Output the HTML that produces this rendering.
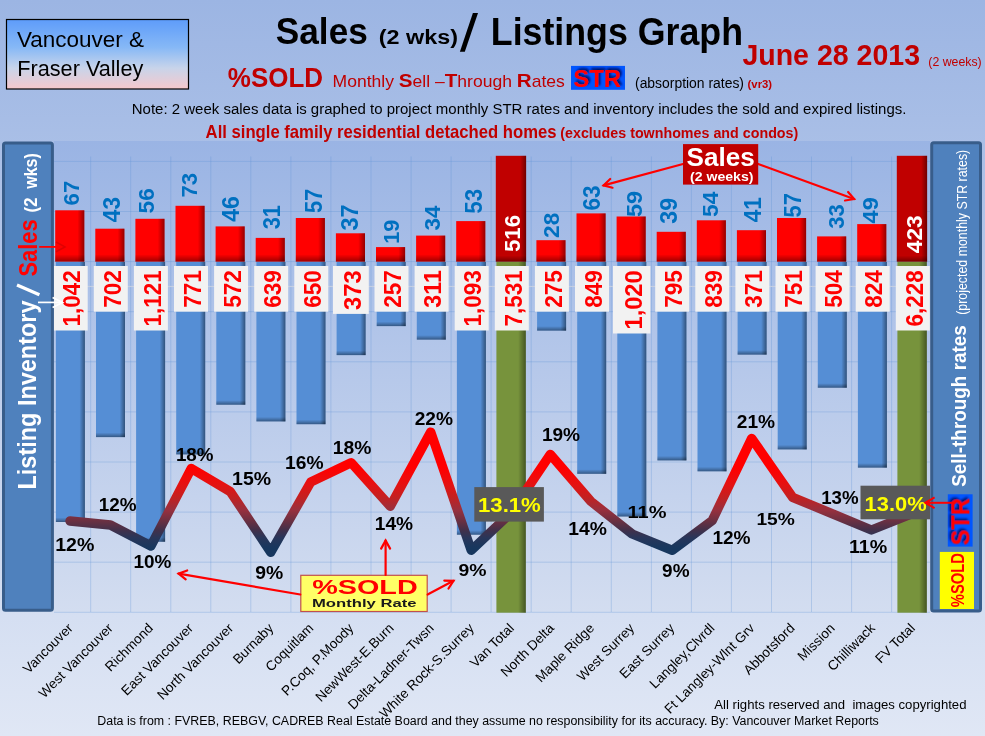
<!DOCTYPE html><html><head><meta charset="utf-8"><style>html,body{margin:0;padding:0;overflow:hidden;background:#c0cde9}svg{display:block;will-change:transform}text{font-family:"Liberation Sans", sans-serif}</style></head><body>
<svg width="985" height="736" viewBox="0 0 985 736">
<defs>
<linearGradient id="bg" x1="0" y1="0" x2="0" y2="1"><stop offset="0" stop-color="#9cb5e3"/><stop offset="1" stop-color="#e0e7f5"/></linearGradient>
<linearGradient id="plot" x1="0" y1="0" x2="0" y2="1"><stop offset="0" stop-color="#9ab4e4"/><stop offset="1" stop-color="#d3ddf0"/></linearGradient>
<linearGradient id="vfbox" x1="0" y1="0" x2="0" y2="1"><stop offset="0" stop-color="#5e9cfa"/><stop offset="0.4" stop-color="#86b8f6"/><stop offset="0.7" stop-color="#c8d4ea"/><stop offset="1" stop-color="#f6c8cc"/></linearGradient>
<linearGradient id="shR" x1="0" y1="0" x2="1" y2="0"><stop offset="0" stop-color="#000" stop-opacity="0"/><stop offset="1" stop-color="#000" stop-opacity="0.42"/></linearGradient>
<linearGradient id="shB" x1="0" y1="0" x2="0" y2="1"><stop offset="0" stop-color="#000" stop-opacity="0"/><stop offset="1" stop-color="#000" stop-opacity="0.38"/></linearGradient>
<linearGradient id="lineg" gradientUnits="userSpaceOnUse" x1="0" y1="468" x2="0" y2="548"><stop offset="0.000" stop-color="#ff0000"/><stop offset="0.212" stop-color="#e41212"/><stop offset="0.362" stop-color="#c42020"/><stop offset="0.525" stop-color="#98303e"/><stop offset="0.662" stop-color="#6a3042"/><stop offset="0.775" stop-color="#42304a"/><stop offset="0.875" stop-color="#28365a"/><stop offset="1.000" stop-color="#17375e"/></linearGradient>
<filter id="strsh" x="-10%" y="-10%" width="130%" height="130%"><feDropShadow dx="1.9" dy="-1.9" stdDeviation="1.0" flood-color="#001060" flood-opacity="1"/></filter>
</defs>
<rect x="0" y="0" width="985" height="736" fill="url(#bg)"/>
<rect x="54" y="141" width="876" height="471" fill="url(#plot)"/>
<g stroke="#5d92d5" stroke-width="1" stroke-opacity="0.3"><line x1="54" y1="161.4" x2="930" y2="161.4"/><line x1="54" y1="211.5" x2="930" y2="211.5"/><line x1="54" y1="261.6" x2="930" y2="261.6"/><line x1="54" y1="311.7" x2="930" y2="311.7"/><line x1="54" y1="361.8" x2="930" y2="361.8"/><line x1="54" y1="411.9" x2="930" y2="411.9"/><line x1="54" y1="462.0" x2="930" y2="462.0"/><line x1="54" y1="512.1" x2="930" y2="512.1"/><line x1="54" y1="562.2" x2="930" y2="562.2"/><line x1="54" y1="612.3" x2="930" y2="612.3"/><line x1="90.7" y1="156.5" x2="90.7" y2="612"/><line x1="130.7" y1="156.5" x2="130.7" y2="612"/><line x1="170.8" y1="156.5" x2="170.8" y2="612"/><line x1="210.8" y1="156.5" x2="210.8" y2="612"/><line x1="250.8" y1="156.5" x2="250.8" y2="612"/><line x1="290.9" y1="156.5" x2="290.9" y2="612"/><line x1="330.9" y1="156.5" x2="330.9" y2="612"/><line x1="371.0" y1="156.5" x2="371.0" y2="612"/><line x1="411.1" y1="156.5" x2="411.1" y2="612"/><line x1="451.1" y1="156.5" x2="451.1" y2="612"/><line x1="491.1" y1="156.5" x2="491.1" y2="612"/><line x1="531.2" y1="156.5" x2="531.2" y2="612"/><line x1="571.2" y1="156.5" x2="571.2" y2="612"/><line x1="611.3" y1="156.5" x2="611.3" y2="612"/><line x1="651.4" y1="156.5" x2="651.4" y2="612"/><line x1="691.4" y1="156.5" x2="691.4" y2="612"/><line x1="731.4" y1="156.5" x2="731.4" y2="612"/><line x1="771.5" y1="156.5" x2="771.5" y2="612"/><line x1="811.5" y1="156.5" x2="811.5" y2="612"/><line x1="851.6" y1="156.5" x2="851.6" y2="612"/><line x1="891.6" y1="156.5" x2="891.6" y2="612"/></g>
<line x1="54" y1="286.4" x2="930" y2="286.4" stroke="#c8d0e2" stroke-width="1"/>
<text transform="translate(78.5,205.4) rotate(-90)" font-size="22.3" fill="#0070c0" font-weight="bold" textLength="24.7" lengthAdjust="spacingAndGlyphs" >67</text>
<text transform="translate(120.0,222.2) rotate(-90)" font-size="23.7" fill="#0070c0" font-weight="bold" textLength="25.2" lengthAdjust="spacingAndGlyphs" >43</text>
<text transform="translate(154.4,213.4) rotate(-90)" font-size="22.8" fill="#0070c0" font-weight="bold" textLength="25.1" lengthAdjust="spacingAndGlyphs" >56</text>
<text transform="translate(197.0,197.6) rotate(-90)" font-size="22.3" fill="#0070c0" font-weight="bold" textLength="24.7" lengthAdjust="spacingAndGlyphs" >73</text>
<text transform="translate(239.0,221.7) rotate(-90)" font-size="23.7" fill="#0070c0" font-weight="bold" textLength="25.5" lengthAdjust="spacingAndGlyphs" >46</text>
<text transform="translate(280.2,229.3) rotate(-90)" font-size="23.2" fill="#0070c0" font-weight="bold" textLength="24.2" lengthAdjust="spacingAndGlyphs" >31</text>
<text transform="translate(321.6,213.1) rotate(-90)" font-size="23.9" fill="#0070c0" font-weight="bold" textLength="24.4" lengthAdjust="spacingAndGlyphs" >57</text>
<text transform="translate(357.9,230.5) rotate(-90)" font-size="23.9" fill="#0070c0" font-weight="bold" textLength="26.1" lengthAdjust="spacingAndGlyphs" >37</text>
<text transform="translate(399.1,243.8) rotate(-90)" font-size="22.6" fill="#0070c0" font-weight="bold" textLength="24.0" lengthAdjust="spacingAndGlyphs" >19</text>
<text transform="translate(440.4,230.5) rotate(-90)" font-size="22.6" fill="#0070c0" font-weight="bold" textLength="24.9" lengthAdjust="spacingAndGlyphs" >34</text>
<text transform="translate(482.2,213.7) rotate(-90)" font-size="24.4" fill="#0070c0" font-weight="bold" textLength="24.8" lengthAdjust="spacingAndGlyphs" >53</text>
<text transform="translate(559.4,237.9) rotate(-90)" font-size="22.6" fill="#0070c0" font-weight="bold" textLength="25.1" lengthAdjust="spacingAndGlyphs" >28</text>
<text transform="translate(599.9,210.6) rotate(-90)" font-size="23.7" fill="#0070c0" font-weight="bold" textLength="25.1" lengthAdjust="spacingAndGlyphs" >63</text>
<text transform="translate(642.0,217.0) rotate(-90)" font-size="22.3" fill="#0070c0" font-weight="bold" textLength="26.1" lengthAdjust="spacingAndGlyphs" >59</text>
<text transform="translate(677.1,223.8) rotate(-90)" font-size="23.2" fill="#0070c0" font-weight="bold" textLength="25.9" lengthAdjust="spacingAndGlyphs" >39</text>
<text transform="translate(718.0,217.0) rotate(-90)" font-size="22.9" fill="#0070c0" font-weight="bold" textLength="25.5" lengthAdjust="spacingAndGlyphs" >54</text>
<text transform="translate(761.0,222.3) rotate(-90)" font-size="23.0" fill="#0070c0" font-weight="bold" textLength="25.1" lengthAdjust="spacingAndGlyphs" >41</text>
<text transform="translate(801.0,217.4) rotate(-90)" font-size="23.7" fill="#0070c0" font-weight="bold" textLength="24.4" lengthAdjust="spacingAndGlyphs" >57</text>
<text transform="translate(844.1,228.7) rotate(-90)" font-size="22.9" fill="#0070c0" font-weight="bold" textLength="24.4" lengthAdjust="spacingAndGlyphs" >33</text>
<text transform="translate(878.2,223.4) rotate(-90)" font-size="22.9" fill="#0070c0" font-weight="bold" textLength="26.2" lengthAdjust="spacingAndGlyphs" >49</text>
<rect x="55.2" y="210.3" width="29.1" height="51.3" fill="#ff0000"/>
<rect x="77.5" y="210.3" width="6.8" height="51.3" fill="url(#shR)"/>
<rect x="55.2" y="254.4" width="29.1" height="7.2" fill="url(#shB)"/>
<rect x="55.9" y="262" width="29" height="260.0" fill="#558ed5"/>
<rect x="79.4" y="262" width="5.5" height="260.0" fill="url(#shR)"/>
<rect x="55.9" y="517.5" width="29" height="4.5" fill="url(#shB)"/>
<rect x="95.3" y="228.7" width="29.1" height="32.9" fill="#ff0000"/>
<rect x="117.6" y="228.7" width="6.8" height="32.9" fill="url(#shR)"/>
<rect x="95.3" y="254.4" width="29.1" height="7.2" fill="url(#shB)"/>
<rect x="96.0" y="262" width="29" height="175.1" fill="#558ed5"/>
<rect x="119.5" y="262" width="5.5" height="175.1" fill="url(#shR)"/>
<rect x="96.0" y="432.6" width="29" height="4.5" fill="url(#shB)"/>
<rect x="135.4" y="218.8" width="29.1" height="42.8" fill="#ff0000"/>
<rect x="157.7" y="218.8" width="6.8" height="42.8" fill="url(#shR)"/>
<rect x="135.4" y="254.4" width="29.1" height="7.2" fill="url(#shB)"/>
<rect x="136.1" y="262" width="29" height="279.7" fill="#558ed5"/>
<rect x="159.6" y="262" width="5.5" height="279.7" fill="url(#shR)"/>
<rect x="136.1" y="537.2" width="29" height="4.5" fill="url(#shB)"/>
<rect x="175.5" y="205.8" width="29.1" height="55.8" fill="#ff0000"/>
<rect x="197.8" y="205.8" width="6.8" height="55.8" fill="url(#shR)"/>
<rect x="175.5" y="254.4" width="29.1" height="7.2" fill="url(#shB)"/>
<rect x="176.2" y="262" width="29" height="192.4" fill="#558ed5"/>
<rect x="199.7" y="262" width="5.5" height="192.4" fill="url(#shR)"/>
<rect x="176.2" y="449.9" width="29" height="4.5" fill="url(#shB)"/>
<rect x="215.6" y="226.4" width="29.1" height="35.2" fill="#ff0000"/>
<rect x="237.9" y="226.4" width="6.8" height="35.2" fill="url(#shR)"/>
<rect x="215.6" y="254.4" width="29.1" height="7.2" fill="url(#shB)"/>
<rect x="216.3" y="262" width="29" height="142.7" fill="#558ed5"/>
<rect x="239.8" y="262" width="5.5" height="142.7" fill="url(#shR)"/>
<rect x="216.3" y="400.2" width="29" height="4.5" fill="url(#shB)"/>
<rect x="255.7" y="237.9" width="29.1" height="23.7" fill="#ff0000"/>
<rect x="278.0" y="237.9" width="6.8" height="23.7" fill="url(#shR)"/>
<rect x="255.7" y="254.4" width="29.1" height="7.2" fill="url(#shB)"/>
<rect x="256.4" y="262" width="29" height="159.4" fill="#558ed5"/>
<rect x="279.9" y="262" width="5.5" height="159.4" fill="url(#shR)"/>
<rect x="256.4" y="416.9" width="29" height="4.5" fill="url(#shB)"/>
<rect x="295.8" y="218.0" width="29.1" height="43.6" fill="#ff0000"/>
<rect x="318.1" y="218.0" width="6.8" height="43.6" fill="url(#shR)"/>
<rect x="295.8" y="254.4" width="29.1" height="7.2" fill="url(#shB)"/>
<rect x="296.5" y="262" width="29" height="162.2" fill="#558ed5"/>
<rect x="320.0" y="262" width="5.5" height="162.2" fill="url(#shR)"/>
<rect x="296.5" y="419.7" width="29" height="4.5" fill="url(#shB)"/>
<rect x="335.9" y="233.3" width="29.1" height="28.3" fill="#ff0000"/>
<rect x="358.2" y="233.3" width="6.8" height="28.3" fill="url(#shR)"/>
<rect x="335.9" y="254.4" width="29.1" height="7.2" fill="url(#shB)"/>
<rect x="336.6" y="262" width="29" height="93.1" fill="#558ed5"/>
<rect x="360.1" y="262" width="5.5" height="93.1" fill="url(#shR)"/>
<rect x="336.6" y="350.6" width="29" height="4.5" fill="url(#shB)"/>
<rect x="376.0" y="247.1" width="29.1" height="14.5" fill="#ff0000"/>
<rect x="398.3" y="247.1" width="6.8" height="14.5" fill="url(#shR)"/>
<rect x="376.0" y="254.4" width="29.1" height="7.2" fill="url(#shB)"/>
<rect x="376.7" y="262" width="29" height="64.1" fill="#558ed5"/>
<rect x="400.2" y="262" width="5.5" height="64.1" fill="url(#shR)"/>
<rect x="376.7" y="321.6" width="29" height="4.5" fill="url(#shB)"/>
<rect x="416.1" y="235.6" width="29.1" height="26.0" fill="#ff0000"/>
<rect x="438.4" y="235.6" width="6.8" height="26.0" fill="url(#shR)"/>
<rect x="416.1" y="254.4" width="29.1" height="7.2" fill="url(#shB)"/>
<rect x="416.8" y="262" width="29" height="77.6" fill="#558ed5"/>
<rect x="440.3" y="262" width="5.5" height="77.6" fill="url(#shR)"/>
<rect x="416.8" y="335.1" width="29" height="4.5" fill="url(#shB)"/>
<rect x="456.2" y="221.1" width="29.1" height="40.5" fill="#ff0000"/>
<rect x="478.5" y="221.1" width="6.8" height="40.5" fill="url(#shR)"/>
<rect x="456.2" y="254.4" width="29.1" height="7.2" fill="url(#shB)"/>
<rect x="456.9" y="262" width="29" height="272.7" fill="#558ed5"/>
<rect x="480.4" y="262" width="5.5" height="272.7" fill="url(#shR)"/>
<rect x="456.9" y="530.2" width="29" height="4.5" fill="url(#shB)"/>
<rect x="496.4" y="261.5" width="29.4" height="351.2" fill="#77933c"/>
<rect x="518.1" y="261.5" width="7.7" height="351.2" fill="url(#shR)"/>
<rect x="495.8" y="155.8" width="30.3" height="105.8" fill="#c00000"/>
<rect x="520.1" y="155.8" width="6" height="105.8" fill="url(#shR)"/>
<rect x="495.8" y="255.6" width="30.3" height="6" fill="url(#shB)"/>
<rect x="536.4" y="240.2" width="29.1" height="21.4" fill="#ff0000"/>
<rect x="558.7" y="240.2" width="6.8" height="21.4" fill="url(#shR)"/>
<rect x="536.4" y="254.4" width="29.1" height="7.2" fill="url(#shB)"/>
<rect x="537.1" y="262" width="29" height="68.6" fill="#558ed5"/>
<rect x="560.6" y="262" width="5.5" height="68.6" fill="url(#shR)"/>
<rect x="537.1" y="326.1" width="29" height="4.5" fill="url(#shB)"/>
<rect x="576.5" y="213.4" width="29.1" height="48.2" fill="#ff0000"/>
<rect x="598.8" y="213.4" width="6.8" height="48.2" fill="url(#shR)"/>
<rect x="576.5" y="254.4" width="29.1" height="7.2" fill="url(#shB)"/>
<rect x="577.2" y="262" width="29" height="211.8" fill="#558ed5"/>
<rect x="600.7" y="262" width="5.5" height="211.8" fill="url(#shR)"/>
<rect x="577.2" y="469.3" width="29" height="4.5" fill="url(#shB)"/>
<rect x="616.6" y="216.5" width="29.1" height="45.1" fill="#ff0000"/>
<rect x="638.9" y="216.5" width="6.8" height="45.1" fill="url(#shR)"/>
<rect x="616.6" y="254.4" width="29.1" height="7.2" fill="url(#shB)"/>
<rect x="617.3" y="262" width="29" height="254.5" fill="#558ed5"/>
<rect x="640.8" y="262" width="5.5" height="254.5" fill="url(#shR)"/>
<rect x="617.3" y="512.0" width="29" height="4.5" fill="url(#shB)"/>
<rect x="656.7" y="231.8" width="29.1" height="29.8" fill="#ff0000"/>
<rect x="679.0" y="231.8" width="6.8" height="29.8" fill="url(#shR)"/>
<rect x="656.7" y="254.4" width="29.1" height="7.2" fill="url(#shB)"/>
<rect x="657.4" y="262" width="29" height="198.4" fill="#558ed5"/>
<rect x="680.9" y="262" width="5.5" height="198.4" fill="url(#shR)"/>
<rect x="657.4" y="455.9" width="29" height="4.5" fill="url(#shB)"/>
<rect x="696.8" y="220.3" width="29.1" height="41.3" fill="#ff0000"/>
<rect x="719.1" y="220.3" width="6.8" height="41.3" fill="url(#shR)"/>
<rect x="696.8" y="254.4" width="29.1" height="7.2" fill="url(#shB)"/>
<rect x="697.5" y="262" width="29" height="209.3" fill="#558ed5"/>
<rect x="721.0" y="262" width="5.5" height="209.3" fill="url(#shR)"/>
<rect x="697.5" y="466.8" width="29" height="4.5" fill="url(#shB)"/>
<rect x="736.9" y="230.2" width="29.1" height="31.4" fill="#ff0000"/>
<rect x="759.2" y="230.2" width="6.8" height="31.4" fill="url(#shR)"/>
<rect x="736.9" y="254.4" width="29.1" height="7.2" fill="url(#shB)"/>
<rect x="737.6" y="262" width="29" height="92.6" fill="#558ed5"/>
<rect x="761.1" y="262" width="5.5" height="92.6" fill="url(#shR)"/>
<rect x="737.6" y="350.1" width="29" height="4.5" fill="url(#shB)"/>
<rect x="777.0" y="218.0" width="29.1" height="43.6" fill="#ff0000"/>
<rect x="799.3" y="218.0" width="6.8" height="43.6" fill="url(#shR)"/>
<rect x="777.0" y="254.4" width="29.1" height="7.2" fill="url(#shB)"/>
<rect x="777.7" y="262" width="29" height="187.4" fill="#558ed5"/>
<rect x="801.2" y="262" width="5.5" height="187.4" fill="url(#shR)"/>
<rect x="777.7" y="444.9" width="29" height="4.5" fill="url(#shB)"/>
<rect x="817.1" y="236.4" width="29.1" height="25.2" fill="#ff0000"/>
<rect x="839.4" y="236.4" width="6.8" height="25.2" fill="url(#shR)"/>
<rect x="817.1" y="254.4" width="29.1" height="7.2" fill="url(#shB)"/>
<rect x="817.8" y="262" width="29" height="125.7" fill="#558ed5"/>
<rect x="841.3" y="262" width="5.5" height="125.7" fill="url(#shR)"/>
<rect x="817.8" y="383.2" width="29" height="4.5" fill="url(#shB)"/>
<rect x="857.2" y="224.1" width="29.1" height="37.5" fill="#ff0000"/>
<rect x="879.5" y="224.1" width="6.8" height="37.5" fill="url(#shR)"/>
<rect x="857.2" y="254.4" width="29.1" height="7.2" fill="url(#shB)"/>
<rect x="857.9" y="262" width="29" height="205.6" fill="#558ed5"/>
<rect x="881.4" y="262" width="5.5" height="205.6" fill="url(#shR)"/>
<rect x="857.9" y="463.1" width="29" height="4.5" fill="url(#shB)"/>
<rect x="897.4" y="261.5" width="29.4" height="351.2" fill="#77933c"/>
<rect x="919.1" y="261.5" width="7.7" height="351.2" fill="url(#shR)"/>
<rect x="896.8" y="155.8" width="30.3" height="105.8" fill="#c00000"/>
<rect x="921.1" y="155.8" width="6" height="105.8" fill="url(#shR)"/>
<rect x="896.8" y="255.6" width="30.3" height="6" fill="url(#shB)"/>
<text transform="translate(519.8,252.0) rotate(-90)" font-size="21.5" fill="#ffffff" font-weight="bold" textLength="37.0" lengthAdjust="spacingAndGlyphs" >516</text>
<text transform="translate(921.5,253.2) rotate(-90)" font-size="22.9" fill="#ffffff" font-weight="bold" textLength="37.8" lengthAdjust="spacingAndGlyphs" >423</text>
<rect x="53.7" y="266" width="34" height="64.5" fill="#f2f2f2"/>
<text transform="translate(80.4,326.5) rotate(-90)" font-size="24" fill="#ff0000" font-weight="bold" textLength="56.2" lengthAdjust="spacingAndGlyphs" >1,042</text>
<rect x="93.8" y="266" width="34" height="45.7" fill="#f2f2f2"/>
<text transform="translate(120.5,307.7) rotate(-90)" font-size="24" fill="#ff0000" font-weight="bold" textLength="37.6" lengthAdjust="spacingAndGlyphs" >702</text>
<rect x="133.9" y="266" width="34" height="64.5" fill="#f2f2f2"/>
<text transform="translate(160.6,326.5) rotate(-90)" font-size="24" fill="#ff0000" font-weight="bold" textLength="56.2" lengthAdjust="spacingAndGlyphs" >1,121</text>
<rect x="174.0" y="266" width="34" height="45.7" fill="#f2f2f2"/>
<text transform="translate(200.7,307.7) rotate(-90)" font-size="24" fill="#ff0000" font-weight="bold" textLength="37.6" lengthAdjust="spacingAndGlyphs" >771</text>
<rect x="214.1" y="266" width="34" height="45.7" fill="#f2f2f2"/>
<text transform="translate(240.8,307.7) rotate(-90)" font-size="24" fill="#ff0000" font-weight="bold" textLength="37.6" lengthAdjust="spacingAndGlyphs" >572</text>
<rect x="254.2" y="266" width="34" height="45.7" fill="#f2f2f2"/>
<text transform="translate(280.9,307.7) rotate(-90)" font-size="24" fill="#ff0000" font-weight="bold" textLength="37.6" lengthAdjust="spacingAndGlyphs" >639</text>
<rect x="294.3" y="266" width="34" height="45.7" fill="#f2f2f2"/>
<text transform="translate(321.0,307.7) rotate(-90)" font-size="24" fill="#ff0000" font-weight="bold" textLength="37.6" lengthAdjust="spacingAndGlyphs" >650</text>
<rect x="333.0" y="266" width="35.8" height="47.9" fill="#f2f2f2"/>
<text transform="translate(361.1,309.9) rotate(-90)" font-size="24" fill="#ff0000" font-weight="bold" textLength="39.5" lengthAdjust="spacingAndGlyphs" >373</text>
<rect x="374.5" y="266" width="34" height="45.7" fill="#f2f2f2"/>
<text transform="translate(401.2,307.7) rotate(-90)" font-size="24" fill="#ff0000" font-weight="bold" textLength="37.6" lengthAdjust="spacingAndGlyphs" >257</text>
<rect x="414.6" y="266" width="34" height="45.7" fill="#f2f2f2"/>
<text transform="translate(441.3,307.7) rotate(-90)" font-size="24" fill="#ff0000" font-weight="bold" textLength="37.6" lengthAdjust="spacingAndGlyphs" >311</text>
<rect x="454.7" y="266" width="34" height="64.5" fill="#f2f2f2"/>
<text transform="translate(481.4,326.5) rotate(-90)" font-size="24" fill="#ff0000" font-weight="bold" textLength="56.2" lengthAdjust="spacingAndGlyphs" >1,093</text>
<rect x="494.8" y="266" width="34" height="64.5" fill="#f2f2f2"/>
<text transform="translate(521.5,326.5) rotate(-90)" font-size="24" fill="#ff0000" font-weight="bold" textLength="56.2" lengthAdjust="spacingAndGlyphs" >7,531</text>
<rect x="534.9" y="266" width="34" height="45.7" fill="#f2f2f2"/>
<text transform="translate(561.6,307.7) rotate(-90)" font-size="24" fill="#ff0000" font-weight="bold" textLength="37.6" lengthAdjust="spacingAndGlyphs" >275</text>
<rect x="575.0" y="266" width="34" height="45.7" fill="#f2f2f2"/>
<text transform="translate(601.7,307.7) rotate(-90)" font-size="24" fill="#ff0000" font-weight="bold" textLength="37.6" lengthAdjust="spacingAndGlyphs" >849</text>
<rect x="613.0" y="266" width="37.4" height="67.5" fill="#f2f2f2"/>
<text transform="translate(641.8,329.5) rotate(-90)" font-size="24" fill="#ff0000" font-weight="bold" textLength="59.1" lengthAdjust="spacingAndGlyphs" >1,020</text>
<rect x="655.2" y="266" width="34" height="45.7" fill="#f2f2f2"/>
<text transform="translate(681.9,307.7) rotate(-90)" font-size="24" fill="#ff0000" font-weight="bold" textLength="37.6" lengthAdjust="spacingAndGlyphs" >795</text>
<rect x="695.3" y="266" width="34" height="45.7" fill="#f2f2f2"/>
<text transform="translate(722.0,307.7) rotate(-90)" font-size="24" fill="#ff0000" font-weight="bold" textLength="37.6" lengthAdjust="spacingAndGlyphs" >839</text>
<rect x="735.4" y="266" width="34" height="45.7" fill="#f2f2f2"/>
<text transform="translate(762.1,307.7) rotate(-90)" font-size="24" fill="#ff0000" font-weight="bold" textLength="37.6" lengthAdjust="spacingAndGlyphs" >371</text>
<rect x="775.5" y="266" width="34" height="45.7" fill="#f2f2f2"/>
<text transform="translate(802.2,307.7) rotate(-90)" font-size="24" fill="#ff0000" font-weight="bold" textLength="37.6" lengthAdjust="spacingAndGlyphs" >751</text>
<rect x="815.6" y="266" width="34" height="45.7" fill="#f2f2f2"/>
<text transform="translate(842.3,307.7) rotate(-90)" font-size="24" fill="#ff0000" font-weight="bold" textLength="37.6" lengthAdjust="spacingAndGlyphs" >504</text>
<rect x="855.7" y="266" width="34" height="45.7" fill="#f2f2f2"/>
<text transform="translate(882.4,307.7) rotate(-90)" font-size="24" fill="#ff0000" font-weight="bold" textLength="37.6" lengthAdjust="spacingAndGlyphs" >824</text>
<rect x="895.8" y="266" width="34" height="64.5" fill="#f2f2f2"/>
<text transform="translate(922.5,326.5) rotate(-90)" font-size="24" fill="#ff0000" font-weight="bold" textLength="56.2" lengthAdjust="spacingAndGlyphs" >6,228</text>
<path d="M70,521 L110.4,525 L150.9,546 L191.3,468.5 L230.3,491.6 L270.8,552.3 L310.8,482 L351.1,462.7 L390.3,506.3 L430.7,432.1 L471.2,550.3 L511,512.8 L550.3,454.4 L590.9,501.4 L632.2,534 L672.4,550.3 L712.3,520.4 L751.7,438.4 L792.6,497.3 L832,513.6 L871.4,530 L911.5,514" fill="none" stroke="url(#lineg)" stroke-width="9.4" stroke-linejoin="round" stroke-linecap="round"/>
<text x="55.2" y="551.0" font-size="18.4" fill="#000" font-weight="bold" textLength="39.2" lengthAdjust="spacingAndGlyphs" >12%</text>
<text x="98.8" y="510.5" font-size="18.3" fill="#000" font-weight="bold" textLength="37.8" lengthAdjust="spacingAndGlyphs" >12%</text>
<text x="133.4" y="568.3" font-size="17.5" fill="#000" font-weight="bold" textLength="37.9" lengthAdjust="spacingAndGlyphs" >10%</text>
<text x="175.9" y="461.0" font-size="18.6" fill="#000" font-weight="bold" textLength="37.6" lengthAdjust="spacingAndGlyphs" >18%</text>
<text x="232.1" y="484.6" font-size="18.0" fill="#000" font-weight="bold" textLength="39.0" lengthAdjust="spacingAndGlyphs" >15%</text>
<text x="255.3" y="578.6" font-size="18.7" fill="#000" font-weight="bold" textLength="28.0" lengthAdjust="spacingAndGlyphs" >9%</text>
<text x="285.0" y="469.2" font-size="19.1" fill="#000" font-weight="bold" textLength="38.5" lengthAdjust="spacingAndGlyphs" >16%</text>
<text x="332.7" y="453.7" font-size="19.1" fill="#000" font-weight="bold" textLength="38.6" lengthAdjust="spacingAndGlyphs" >18%</text>
<text x="374.8" y="529.5" font-size="18.7" fill="#000" font-weight="bold" textLength="38.3" lengthAdjust="spacingAndGlyphs" >14%</text>
<text x="414.7" y="424.5" font-size="17.9" fill="#000" font-weight="bold" textLength="38.3" lengthAdjust="spacingAndGlyphs" >22%</text>
<text x="458.4" y="575.6" font-size="17.0" fill="#000" font-weight="bold" textLength="28.0" lengthAdjust="spacingAndGlyphs" >9%</text>
<text x="541.9" y="440.5" font-size="18.2" fill="#000" font-weight="bold" textLength="38.2" lengthAdjust="spacingAndGlyphs" >19%</text>
<text x="568.2" y="534.6" font-size="17.9" fill="#000" font-weight="bold" textLength="38.6" lengthAdjust="spacingAndGlyphs" >14%</text>
<text x="627.6" y="517.7" font-size="17.0" fill="#000" font-weight="bold" textLength="38.8" lengthAdjust="spacingAndGlyphs" >11%</text>
<text x="662.1" y="576.7" font-size="17.9" fill="#000" font-weight="bold" textLength="27.4" lengthAdjust="spacingAndGlyphs" >9%</text>
<text x="712.4" y="543.5" font-size="17.7" fill="#000" font-weight="bold" textLength="38.2" lengthAdjust="spacingAndGlyphs" >12%</text>
<text x="736.8" y="427.5" font-size="17.5" fill="#000" font-weight="bold" textLength="38.3" lengthAdjust="spacingAndGlyphs" >21%</text>
<text x="756.4" y="525.0" font-size="17.0" fill="#000" font-weight="bold" textLength="38.4" lengthAdjust="spacingAndGlyphs" >15%</text>
<text x="821.2" y="503.6" font-size="17.6" fill="#000" font-weight="bold" textLength="37.4" lengthAdjust="spacingAndGlyphs" >13%</text>
<text x="848.9" y="552.5" font-size="17.5" fill="#000" font-weight="bold" textLength="38.3" lengthAdjust="spacingAndGlyphs" >11%</text>
<rect x="474.3" y="487.1" width="69.6" height="34.5" fill="#595959"/>
<text x="478.0" y="512.3" font-size="20.9" fill="#ffff00" font-weight="bold" textLength="62.8" lengthAdjust="spacingAndGlyphs" >13.1%</text>
<rect x="860.5" y="485.7" width="69.5" height="33.6" fill="#595959"/>
<text x="864.6" y="510.8" font-size="20.9" fill="#ffff00" font-weight="bold" textLength="62.0" lengthAdjust="spacingAndGlyphs" >13.0%</text>
<rect x="3.5" y="143.1" width="48.9" height="467.2" rx="2" fill="#4f81bd" stroke="#385d8a" stroke-width="3"/>
<text transform="translate(36.3,489.5) rotate(-90)" font-size="25.8" fill="#ffffff" font-weight="bold" textLength="189.0" lengthAdjust="spacingAndGlyphs" >Listing Inventory</text>
<line x1="17.0" y1="284.9" x2="39.4" y2="294.7" stroke="#ffffff" stroke-width="3.3"/>
<text transform="translate(36.5,276.5) rotate(-90)" font-size="26.5" fill="#ff0000" font-weight="bold" textLength="57.2" lengthAdjust="spacingAndGlyphs" >Sales</text>
<text transform="translate(37.0,212.4) rotate(-90)" font-size="17.6" fill="#ffffff" font-weight="bold" textLength="14.8" lengthAdjust="spacingAndGlyphs" >(2</text>
<text transform="translate(37.0,188.8) rotate(-90)" font-size="17.6" fill="#ffffff" font-weight="bold" textLength="35.6" lengthAdjust="spacingAndGlyphs" >wks)</text>
<line x1="39.2" y1="246.9" x2="64" y2="246.9" stroke="#ff0000" stroke-width="1.8"/>
<polyline points="56,242 65,246.9 56,251.8" fill="none" stroke="#e00000" stroke-width="1.6"/>
<line x1="38" y1="302.4" x2="62" y2="302.4" stroke="#ffffff" stroke-width="1.7"/>
<polyline points="52.6,297.4 62.6,302.4 52.6,307.4" fill="none" stroke="#ffffff" stroke-width="1.7"/>
<rect x="931.7" y="142.8" width="48.8" height="468.3" rx="2" fill="#4f81bd" stroke="#385d8a" stroke-width="3"/>
<text transform="translate(965.8,486.8) rotate(-90)" font-size="20.9" fill="#ffffff" font-weight="bold" textLength="161.6" lengthAdjust="spacingAndGlyphs" >Sell-through rates</text>
<text transform="translate(966.5,314.8) rotate(-90)" font-size="14.2" fill="#ffffff" textLength="165.0" lengthAdjust="spacingAndGlyphs" >(projected monthly STR rates)</text>
<rect x="947.8" y="494.3" width="24.8" height="52.3" fill="#0055ff"/>
<text transform="translate(969.4,545.5) rotate(-90)" font-size="25.1" fill="#ff0000" font-weight="bold" textLength="47.5" lengthAdjust="spacingAndGlyphs" filter="url(#strsh)">STR</text>
<rect x="939.8" y="551.9" width="34.2" height="57.1" fill="#ffff00"/>
<text transform="translate(964.2,607.2) rotate(-90)" font-size="18.6" fill="#ff0000" font-weight="bold" textLength="54.2" lengthAdjust="spacingAndGlyphs" >%SOLD</text>
<line x1="955.4" y1="502.8" x2="926" y2="502.8" stroke="#ff0000" stroke-width="2"/>
<polyline points="934.6,497.4 925.3,502.8 934.6,508.2" fill="none" stroke="#ff0000" stroke-width="2"/>
<rect x="300.8" y="575.3" width="126.4" height="36.2" fill="#ffff66" stroke="#c0504d" stroke-width="1.2"/>
<text x="312.2" y="593.5" font-size="19.3" fill="#ff0000" font-weight="bold" textLength="105.5" lengthAdjust="spacingAndGlyphs" >%SOLD</text>
<text x="312.0" y="606.7" font-size="10.9" fill="#1a1a1a" font-weight="bold" textLength="104.5" lengthAdjust="spacingAndGlyphs" >Monthly Rate</text>
<g stroke="#ff0000" stroke-width="2.2" stroke-linecap="round"><line x1="300.3" y1="594.5" x2="178.6" y2="573.6"/><polyline points="187.2,570.5 178.6,573.6 185.7,579.4" fill="none"/><line x1="385.6" y1="575.0" x2="385.6" y2="540.6"/><polyline points="390.1,548.6 385.6,540.6 381.1,548.6" fill="none"/><line x1="427.6" y1="594.5" x2="453.5" y2="580.8"/><polyline points="448.5,588.5 453.5,580.8 444.3,580.6" fill="none"/><line x1="683.0" y1="164.0" x2="603.6" y2="185.4"/><polyline points="610.2,179.0 603.6,185.4 612.5,187.7" fill="none"/><line x1="758.2" y1="164.0" x2="854.1" y2="199.0"/><polyline points="845.0,200.5 854.1,199.0 848.1,192.0" fill="none"/></g>
<rect x="683" y="144.1" width="75.2" height="40.5" fill="#c00000"/>
<text x="686.6" y="165.5" font-size="25.6" fill="#ffffff" font-weight="bold" textLength="68.2" lengthAdjust="spacingAndGlyphs" >Sales</text>
<text x="690.0" y="180.9" font-size="12.0" fill="#ffffff" font-weight="bold" textLength="63.5" lengthAdjust="spacingAndGlyphs" >(2 weeks)</text>
<rect x="6.5" y="19.5" width="182" height="69.5" fill="url(#vfbox)" stroke="#000" stroke-width="1.2"/>
<text x="17.0" y="46.6" font-size="21.8" fill="#000" textLength="127.0" lengthAdjust="spacingAndGlyphs" >Vancouver &amp;</text>
<text x="17.3" y="76.4" font-size="21.2" fill="#000" textLength="126.0" lengthAdjust="spacingAndGlyphs" >Fraser Valley</text>
<text x="275.8" y="44.2" font-size="37.7" fill="#000" font-weight="bold" textLength="92.0" lengthAdjust="spacingAndGlyphs" >Sales</text>
<text x="378.8" y="44.2" font-size="19.6" fill="#000" font-weight="bold" textLength="79.2" lengthAdjust="spacingAndGlyphs" >(2 wks)</text>
<polygon points="472.9,13.1 478,13.1 464.8,51.7 459.9,51.7" fill="#000"/>
<text x="490.8" y="44.6" font-size="38.3" fill="#000" font-weight="bold" textLength="252.2" lengthAdjust="spacingAndGlyphs" >Listings Graph</text>
<text x="742.4" y="65.3" font-size="29.1" fill="#c00000" font-weight="bold" textLength="177.6" lengthAdjust="spacingAndGlyphs" >June 28 2013</text>
<text x="928.3" y="66.0" font-size="12.6" fill="#c00000" textLength="53.4" lengthAdjust="spacingAndGlyphs" >(2 weeks)</text>
<text x="227.8" y="87.2" font-size="27.2" fill="#c00000" font-weight="bold" textLength="95.2" lengthAdjust="spacingAndGlyphs" >%SOLD</text>
<text x="332.6" y="87.2" font-size="16.2" fill="#c00000" textLength="232.2" lengthAdjust="spacingAndGlyphs">Monthly <tspan font-weight="bold" font-size="19">S</tspan>ell &#8211;<tspan font-weight="bold" font-size="19">T</tspan>hrough <tspan font-weight="bold" font-size="19">R</tspan>ates</text>
<rect x="571" y="65.9" width="54" height="23.9" fill="#0055ff"/>
<text x="573.2" y="86.6" font-size="23.7" fill="#ff0000" font-weight="bold" textLength="47.8" lengthAdjust="spacingAndGlyphs" filter="url(#strsh)">STR</text>
<text x="635.0" y="88.0" font-size="14.7" fill="#000" textLength="109.0" lengthAdjust="spacingAndGlyphs" >(absorption rates)</text>
<text x="747.6" y="87.5" font-size="10.5" fill="#c00000" font-weight="bold" textLength="24.5" lengthAdjust="spacingAndGlyphs" >(vr3)</text>
<text x="131.8" y="113.5" font-size="15.4" fill="#000" textLength="774.6" lengthAdjust="spacingAndGlyphs" >Note: 2 week sales data is graphed to project monthly STR rates and inventory includes the sold and expired listings.</text>
<text x="205.6" y="137.5" font-size="17.9" fill="#c00000" font-weight="bold" textLength="351.0" lengthAdjust="spacingAndGlyphs" >All single family residential detached homes</text>
<text x="560.3" y="137.5" font-size="14.2" fill="#c00000" font-weight="bold" textLength="238.0" lengthAdjust="spacingAndGlyphs" >(excludes townhomes and condos)</text>
<text transform="translate(73.7,629.0) rotate(-45)" font-size="13.6" fill="#000" text-anchor="end" >Vancouver</text>
<text transform="translate(113.8,629.0) rotate(-45)" font-size="13.6" fill="#000" text-anchor="end" >West Vancouver</text>
<text transform="translate(153.9,629.0) rotate(-45)" font-size="13.6" fill="#000" text-anchor="end" >Richmond</text>
<text transform="translate(194.0,629.0) rotate(-45)" font-size="13.6" fill="#000" text-anchor="end" >East Vancouver</text>
<text transform="translate(234.1,629.0) rotate(-45)" font-size="13.6" fill="#000" text-anchor="end" >North Vancouver</text>
<text transform="translate(274.2,629.0) rotate(-45)" font-size="13.6" fill="#000" text-anchor="end" >Burnaby</text>
<text transform="translate(314.3,629.0) rotate(-45)" font-size="13.6" fill="#000" text-anchor="end" >Coquitlam</text>
<text transform="translate(354.4,629.0) rotate(-45)" font-size="13.6" fill="#000" text-anchor="end" >P.Coq, P.Moody</text>
<text transform="translate(394.5,629.0) rotate(-45)" font-size="13.6" fill="#000" text-anchor="end" >NewWest-E.Burn</text>
<text transform="translate(434.6,629.0) rotate(-45)" font-size="13.6" fill="#000" text-anchor="end" >Delta-Ladner-Twsn</text>
<text transform="translate(474.7,629.0) rotate(-45)" font-size="13.6" fill="#000" text-anchor="end" >White Rock-S.Surrey</text>
<text transform="translate(514.8,629.0) rotate(-45)" font-size="13.6" fill="#000" text-anchor="end" >Van Total</text>
<text transform="translate(554.9,629.0) rotate(-45)" font-size="13.6" fill="#000" text-anchor="end" >North Delta</text>
<text transform="translate(595.0,629.0) rotate(-45)" font-size="13.6" fill="#000" text-anchor="end" >Maple Ridge</text>
<text transform="translate(635.1,629.0) rotate(-45)" font-size="13.6" fill="#000" text-anchor="end" >West Surrey</text>
<text transform="translate(675.2,629.0) rotate(-45)" font-size="13.6" fill="#000" text-anchor="end" >East Surrey</text>
<text transform="translate(715.3,629.0) rotate(-45)" font-size="13.6" fill="#000" text-anchor="end" >Langley,Clvrdl</text>
<text transform="translate(755.4,629.0) rotate(-45)" font-size="13.6" fill="#000" text-anchor="end" >Ft Langley-Wlnt Grv</text>
<text transform="translate(795.5,629.0) rotate(-45)" font-size="13.6" fill="#000" text-anchor="end" >Abbotsford</text>
<text transform="translate(835.6,629.0) rotate(-45)" font-size="13.6" fill="#000" text-anchor="end" >Mission</text>
<text transform="translate(875.7,629.0) rotate(-45)" font-size="13.6" fill="#000" text-anchor="end" >Chilliwack</text>
<text transform="translate(915.8,629.0) rotate(-45)" font-size="13.6" fill="#000" text-anchor="end" >FV Total</text>
<text x="714.3" y="708.5" font-size="12.3" fill="#000" textLength="252.2" lengthAdjust="spacingAndGlyphs" >All rights reserved and&#160; images copyrighted</text>
<text x="97.3" y="725.2" font-size="12.3" fill="#000" textLength="781.5" lengthAdjust="spacingAndGlyphs" >Data is from : FVREB, REBGV, CADREB Real Estate Board and they assume no responsibility for its accuracy. By: Vancouver Market Reports</text>
</svg></body></html>
